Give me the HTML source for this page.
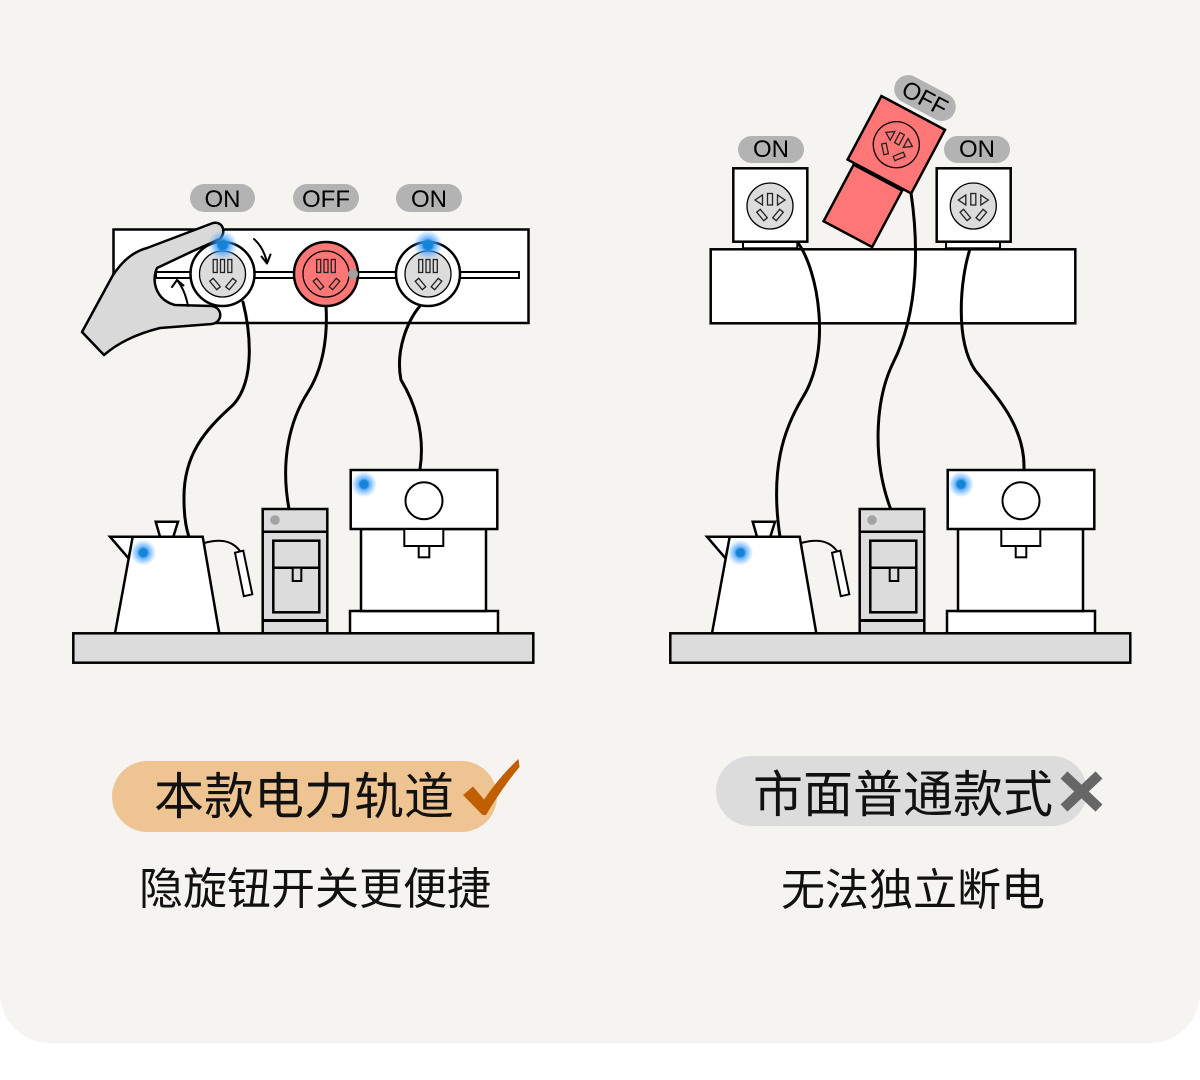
<!DOCTYPE html>
<html>
<head>
<meta charset="utf-8">
<style>
  html,body{margin:0;padding:0;background:#ffffff;}
  svg{display:block;}
  .t{font-family:"Liberation Sans","Noto Sans CJK SC",sans-serif;}
  .c{font-family:"Liberation Sans","Noto Sans CJK SC",sans-serif;}
</style>
</head>
<body>
<svg width="1200" height="1080" viewBox="0 0 1200 1080" xmlns="http://www.w3.org/2000/svg">
  <defs>
    <radialGradient id="glow">
      <stop offset="0" stop-color="#1684d4"/>
      <stop offset="0.3" stop-color="#1684d4"/>
      <stop offset="0.45" stop-color="#3d9cff" stop-opacity="0.75"/>
      <stop offset="1" stop-color="#5aaeff" stop-opacity="0"/>
    </radialGradient>
  </defs>

  <!-- card background -->
  <rect x="0" y="-60" width="1200" height="1103" rx="50" ry="50" fill="#f5f4f1"/>

  <!-- ================= LEFT TOP ================= -->
  <!-- pills -->
  <rect x="190" y="184" width="65" height="28" rx="14" fill="#b3b3b3"/>
  <text class="t" x="222.5" y="207" font-size="24" text-anchor="middle" fill="#000">ON</text>
  <rect x="293" y="184" width="66" height="28" rx="14" fill="#b3b3b3"/>
  <text class="t" x="326" y="207" font-size="24" text-anchor="middle" fill="#000">OFF</text>
  <rect x="396" y="184" width="66" height="28" rx="14" fill="#b3b3b3"/>
  <text class="t" x="429" y="207" font-size="24" text-anchor="middle" fill="#000">ON</text>

  <!-- panel -->
  <rect x="113.5" y="229.5" width="415" height="93.5" fill="#fff" stroke="#000" stroke-width="2.5"/>

  <!-- hand -->
  <path d="M213,223 C222,221 227,231 220,239 L193,251 L157,268 C151,281 156,300 175,305 L212,306 C223,308 223,322 212,324 L160,328 C140,333 120,341 104,355 L82,332 L113,275 C122,262 132,252 147,248 Z"
        fill="#d9d9d9" stroke="#000" stroke-width="2.5" stroke-linejoin="round"/>

  <!-- rail -->
  <rect x="156" y="272" width="363" height="6" fill="#fff" stroke="#000" stroke-width="2"/>

  <!-- cables left -->
  <g fill="none" stroke="#000" stroke-width="3" stroke-linecap="round">
    <path d="M243,302 C250,330 256,380 233,405 C205,430 183,455 184,500 C184,515 186,528 189,537"/>
    <path d="M326,306 C328,340 322,370 308,392 C290,420 280,460 289,509"/>
    <path d="M420,306 C408,320 395,350 401,380 C412,398 426,430 420,469"/>
  </g>

  <!-- knob 1 -->
  <g transform="translate(222.5,274)">
    <circle r="32" fill="#fff" stroke="#000" stroke-width="2.5"/>
    <circle r="23" fill="#dcdcdc" stroke="#000" stroke-width="1.3"/>
    <g fill="none" stroke="#222" stroke-width="1.3">
      <rect x="-9.3" y="-14.5" width="4" height="13"/>
      <rect x="-2" y="-14.5" width="4" height="13"/>
      <rect x="5.3" y="-14.5" width="4" height="13"/>
      <rect x="-2.3" y="-5.5" width="4.6" height="11" transform="translate(-7.5,10) rotate(-40)"/>
      <rect x="-2.3" y="-5.5" width="4.6" height="11" transform="translate(8.5,10) rotate(40)"/>
    </g>
  </g>
  <!-- knob 2 (red) -->
  <g transform="translate(326,274)">
    <circle r="32" fill="#ff7676" stroke="#000" stroke-width="2.5"/>
    <circle r="23" fill="#ff7676" stroke="#000" stroke-width="1.3"/>
    <g fill="none" stroke="#222" stroke-width="1.3">
      <rect x="-9.3" y="-14.5" width="4" height="13"/>
      <rect x="-2" y="-14.5" width="4" height="13"/>
      <rect x="5.3" y="-14.5" width="4" height="13"/>
      <rect x="-2.3" y="-5.5" width="4.6" height="11" transform="translate(-7.5,10) rotate(-40)"/>
      <rect x="-2.3" y="-5.5" width="4.6" height="11" transform="translate(8.5,10) rotate(40)"/>
    </g>
    <circle cx="27" cy="0" r="5" fill="#a0a0a0"/>
  </g>
  <!-- knob 3 -->
  <g transform="translate(428,274)">
    <circle r="32" fill="#fff" stroke="#000" stroke-width="2.5"/>
    <circle r="23" fill="#dcdcdc" stroke="#000" stroke-width="1.3"/>
    <g fill="none" stroke="#222" stroke-width="1.3">
      <rect x="-9.3" y="-14.5" width="4" height="13"/>
      <rect x="-2" y="-14.5" width="4" height="13"/>
      <rect x="5.3" y="-14.5" width="4" height="13"/>
      <rect x="-2.3" y="-5.5" width="4.6" height="11" transform="translate(-7.5,10) rotate(-40)"/>
      <rect x="-2.3" y="-5.5" width="4.6" height="11" transform="translate(8.5,10) rotate(40)"/>
    </g>
  </g>

  <!-- rotation arrows -->
  <g fill="none" stroke="#000" stroke-width="2" stroke-linecap="round" stroke-linejoin="round">
    <path d="M254,239 Q264,248 267,263"/>
    <path d="M261.5,256.5 L267,263.5 L270.5,254.5"/>
    <path d="M188,306 Q185,290 177,280"/>
    <path d="M172,287 L177,280 L183.5,285.5"/>
  </g>

  <!-- glows knobs -->
  <circle cx="222.7" cy="245" r="15" fill="url(#glow)"/>
  <circle cx="428" cy="245" r="15" fill="url(#glow)"/>

  <!-- ================= LEFT APPLIANCES ================= -->
  <g id="appL" stroke="#000" stroke-width="2.5">
    <!-- kettle -->
    <polygon points="110,536.7 133.3,536.7 128.5,558.3" fill="#fff"/>
    <polygon points="155.7,521.7 178,521.7 173.3,536.7 160,536.7" fill="#fff"/>
    <polygon points="132.7,536.7 202.7,536.7 219.3,633.3 115,633.3" fill="#fff"/>
    <path d="M204,543 C216,540 230,538 240,551" fill="none" stroke-width="2"/>
    <polygon points="235,552.7 243.3,550.7 252.3,594.3 243.8,596.2" fill="#fff" stroke-width="2"/>
    <!-- water dispenser -->
    <rect x="262.7" y="509" width="64.6" height="124.3" fill="#dcdcdc"/>
    <line x1="262.7" y1="531.7" x2="327.3" y2="531.7"/>
    <rect x="273.3" y="540.7" width="46" height="71.6" fill="#dcdcdc"/>
    <line x1="273.3" y1="567.7" x2="319.3" y2="567.7"/>
    <rect x="292.7" y="567.7" width="8.6" height="13.3" fill="#dcdcdc" stroke-width="2"/>
    <line x1="262.7" y1="620.5" x2="327.3" y2="620.5" stroke-width="3"/>
    <!-- coffee machine -->
    <rect x="350" y="611" width="148" height="22.3" fill="#fff"/>
    <rect x="361" y="529" width="125" height="82" fill="#fff"/>
    <rect x="350.7" y="470" width="146.6" height="59" fill="#fff"/>
    <circle cx="424" cy="500.7" r="18.5" fill="#fff" stroke-width="2"/>
    <rect x="404.3" y="529" width="39" height="17" fill="#fff" stroke-width="2"/>
    <rect x="418.7" y="546" width="10.6" height="11.3" fill="#fff" stroke-width="2"/>
    <!-- floor -->
    <rect x="73.3" y="633.3" width="460" height="29.4" fill="#dcdcdc"/>
  </g>
  <circle cx="275" cy="520" r="4.8" fill="#a3a3a3"/>
  <circle cx="143.3" cy="552.7" r="13" fill="url(#glow)"/>
  <circle cx="364" cy="484.3" r="13" fill="url(#glow)"/>

  <!-- ================= RIGHT TOP ================= -->
  <rect x="710.7" y="249.3" width="364.6" height="74" fill="#fff" stroke="#000" stroke-width="2.5"/>

  <g fill="none" stroke="#000" stroke-width="3" stroke-linecap="round">
    <path d="M798,243 C818,270 832,350 803,397 C783,430 770,470 780,537"/>
    <path d="M911,193 C918,240 920,310 893,363 C875,400 872,460 891,510"/>
    <path d="M970,249 C960,280 955,340 975,370 C995,395 1025,425 1024,469"/>
  </g>

  <!-- left socket -->
  <rect x="743" y="241.7" width="54.3" height="6.6" fill="#fff" stroke="#000" stroke-width="2"/>
  <rect x="733.3" y="168.3" width="74" height="73.4" fill="#fff" stroke="#000" stroke-width="2.5"/>
  <g transform="translate(770,206)">
    <circle r="23" fill="#dcdcdc" stroke="#000" stroke-width="1.3"/>
    <g fill="none" stroke="#222" stroke-width="1.3">
      <polygon points="-15,-6 -7.5,-11 -7.5,-1"/>
      <rect x="-2.5" y="-12.5" width="5" height="11.5"/>
      <polygon points="15,-6 7.5,-11 7.5,-1"/>
      <rect x="-2.3" y="-5.5" width="4.6" height="11" transform="translate(-8,9) rotate(-40)"/>
      <rect x="-2.3" y="-5.5" width="4.6" height="11" transform="translate(8,9) rotate(40)"/>
    </g>
  </g>
  <!-- right socket -->
  <rect x="946" y="241.7" width="54" height="6.6" fill="#fff" stroke="#000" stroke-width="2"/>
  <rect x="936.7" y="168.3" width="74" height="73.4" fill="#fff" stroke="#000" stroke-width="2.5"/>
  <g transform="translate(973.3,206)">
    <circle r="23" fill="#dcdcdc" stroke="#000" stroke-width="1.3"/>
    <g fill="none" stroke="#222" stroke-width="1.3">
      <polygon points="-15,-6 -7.5,-11 -7.5,-1"/>
      <rect x="-2.5" y="-12.5" width="5" height="11.5"/>
      <polygon points="15,-6 7.5,-11 7.5,-1"/>
      <rect x="-2.3" y="-5.5" width="4.6" height="11" transform="translate(-8,9) rotate(-40)"/>
      <rect x="-2.3" y="-5.5" width="4.6" height="11" transform="translate(8,9) rotate(40)"/>
    </g>
  </g>

  <!-- ON pills right -->
  <rect x="738" y="136" width="66" height="27" rx="13.5" fill="#b3b3b3"/>
  <text class="t" x="771" y="157" font-size="24" text-anchor="middle" fill="#000">ON</text>
  <rect x="944" y="136" width="66" height="27" rx="13.5" fill="#b3b3b3"/>
  <text class="t" x="977" y="157" font-size="24" text-anchor="middle" fill="#000">ON</text>

  <!-- red tilted plug -->
  <g transform="translate(862.9,205.9) rotate(28)">
    <rect x="-27.5" y="-32" width="55" height="64" fill="#ff7676" stroke="#000" stroke-width="2.5"/>
  </g>
  <g transform="translate(896.3,144.7) rotate(28)">
    <rect x="-36" y="-36" width="72" height="72" fill="#ff7676" stroke="#000" stroke-width="2.5"/>
    <circle r="23" fill="#ff7676" stroke="#000" stroke-width="1.3"/>
    <g fill="none" stroke="#222" stroke-width="1.3">
      <polygon points="-15,-6 -7.5,-11 -7.5,-1"/>
      <rect x="-2.5" y="-12.5" width="5" height="11.5"/>
      <polygon points="15,-6 7.5,-11 7.5,-1"/>
      <rect x="-2.3" y="-5.5" width="4.6" height="11" transform="translate(-8,9) rotate(-40)"/>
      <rect x="-2.3" y="-5.5" width="4.6" height="11" transform="translate(8,9) rotate(40)"/>
    </g>
  </g>
  <g transform="translate(925,98) rotate(28)">
    <rect x="-33" y="-14" width="66" height="28" rx="14" fill="#b3b3b3"/>
    <text class="t" x="0" y="8.5" font-size="24" text-anchor="middle" fill="#000">OFF</text>
  </g>

  <!-- ================= RIGHT APPLIANCES ================= -->
  <g transform="translate(597,0)" stroke="#000" stroke-width="2.5">
    <polygon points="110,536.7 133.3,536.7 128.5,558.3" fill="#fff"/>
    <polygon points="155.7,521.7 178,521.7 173.3,536.7 160,536.7" fill="#fff"/>
    <polygon points="132.7,536.7 202.7,536.7 219.3,633.3 115,633.3" fill="#fff"/>
    <path d="M204,543 C216,540 230,538 240,551" fill="none" stroke-width="2"/>
    <polygon points="235,552.7 243.3,550.7 252.3,594.3 243.8,596.2" fill="#fff" stroke-width="2"/>
    <rect x="262.7" y="509" width="64.6" height="124.3" fill="#dcdcdc"/>
    <line x1="262.7" y1="531.7" x2="327.3" y2="531.7"/>
    <rect x="273.3" y="540.7" width="46" height="71.6" fill="#dcdcdc"/>
    <line x1="273.3" y1="567.7" x2="319.3" y2="567.7"/>
    <rect x="292.7" y="567.7" width="8.6" height="13.3" fill="#dcdcdc" stroke-width="2"/>
    <line x1="262.7" y1="620.5" x2="327.3" y2="620.5" stroke-width="3"/>
    <rect x="350" y="611" width="148" height="22.3" fill="#fff"/>
    <rect x="361" y="529" width="125" height="82" fill="#fff"/>
    <rect x="350.7" y="470" width="146.6" height="59" fill="#fff"/>
    <circle cx="424" cy="500.7" r="18.5" fill="#fff" stroke-width="2"/>
    <rect x="404.3" y="529" width="39" height="17" fill="#fff" stroke-width="2"/>
    <rect x="418.7" y="546" width="10.6" height="11.3" fill="#fff" stroke-width="2"/>
    <rect x="73.3" y="633.3" width="460" height="29.4" fill="#dcdcdc"/>
  </g>
  <circle cx="872" cy="520" r="4.8" fill="#a3a3a3"/>
  <circle cx="740.3" cy="552.7" r="13" fill="url(#glow)"/>
  <circle cx="961" cy="484.3" r="13" fill="url(#glow)"/>

  <!-- ================= LABELS ================= -->
  <rect x="112" y="761" width="385" height="71" rx="35.5" fill="#eec592"/>
  <text class="c" x="304" y="814" font-size="50" text-anchor="middle" fill="#111">本款电力轨道</text>
  <path d="M463,795 L473,786.5 L484,799.5 Q500,776 518.5,759 L519.5,767 Q502,788 486,815 L482.5,815 Z" fill="#bf5f00"/>
  <text class="c" x="315" y="904" font-size="44" text-anchor="middle" fill="#111">隐旋钮开关更便捷</text>

  <rect x="716" y="756" width="371" height="70" rx="35" fill="#dcdcdc"/>
  <text class="c" x="903" y="812" font-size="50" text-anchor="middle" fill="#111">市面普通款式</text>
  <g stroke="#666" stroke-width="10">
    <line x1="1064" y1="775" x2="1099" y2="808"/>
    <line x1="1099" y1="775" x2="1064" y2="808"/>
  </g>
  <text class="c" x="913" y="905" font-size="44" text-anchor="middle" fill="#111">无法独立断电</text>
</svg>
</body>
</html>
